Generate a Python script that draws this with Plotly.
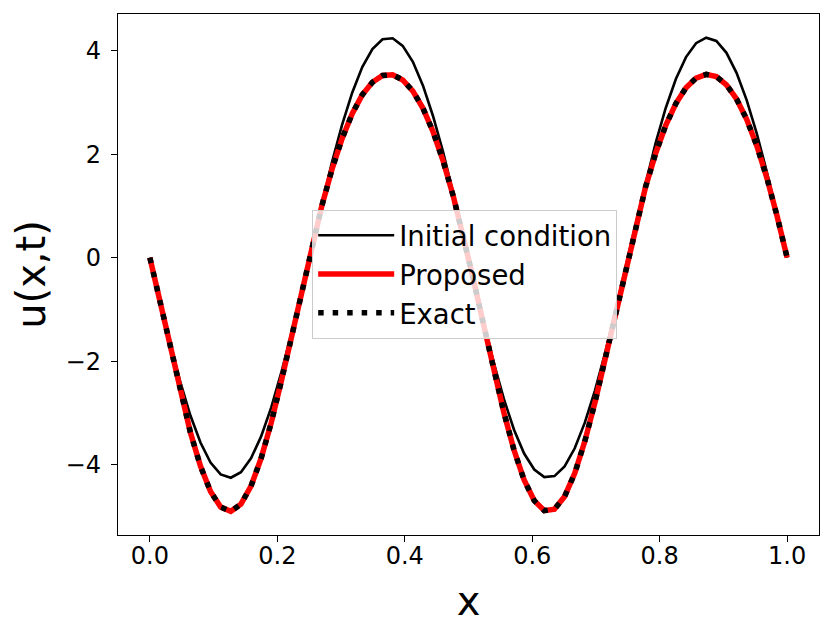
import plotly.graph_objects as go

# sample positions (64 grid points on [0, 1])
x_vals = [0.0, 0.0159, 0.0317, 0.0476, 0.0635, 0.0794, 0.0952, 0.1111, 0.1270, 0.1429,
          0.1587, 0.1746, 0.1905, 0.2063, 0.2222, 0.2381, 0.2540, 0.2698, 0.2857, 0.3016,
          0.3175, 0.3333, 0.3492, 0.3651, 0.3810, 0.3968, 0.4127, 0.4286, 0.4444, 0.4603,
          0.4762, 0.4921, 0.5079, 0.5238, 0.5397, 0.5556, 0.5714, 0.5873, 0.6032, 0.6190,
          0.6349, 0.6508, 0.6667, 0.6825, 0.6984, 0.7143, 0.7302, 0.7460, 0.7619, 0.7778,
          0.7937, 0.8095, 0.8254, 0.8413, 0.8571, 0.8730, 0.8889, 0.9048, 0.9206, 0.9365,
          0.9524, 0.9683, 0.9841, 1.0]

initial_condition = [0.0, -0.842, -1.651, -2.394, -3.043, -3.570, -3.956, -4.185, -4.249, -4.143,
                     -3.874, -3.451, -2.891, -2.216, -1.454, -0.633, 0.212, 1.049, 1.844, 2.566,
                     3.186, 3.681, 4.029, 4.217, 4.238, 4.091, 3.782, 3.323, 2.732, 2.033,
                     1.253, 0.423, -0.423, -1.253, -2.033, -2.732, -3.323, -3.782, -4.091, -4.238,
                     -4.217, -4.029, -3.681, -3.186, -2.566, -1.844, -1.049, -0.212, 0.633, 1.454,
                     2.216, 2.891, 3.451, 3.874, 4.143, 4.249, 4.185, 3.956, 3.570, 3.043,
                     2.394, 1.651, 0.842, 0.0]

proposed = [0.0, -0.863, -1.742, -2.593, -3.370, -4.025, -4.517, -4.815, -4.898, -4.760,
            -4.412, -3.874, -3.185, -2.385, -1.523, -0.644, 0.208, 1.000, 1.703, 2.300,
            2.781, 3.145, 3.389, 3.518, 3.532, 3.432, 3.217, 2.884, 2.432, 1.863,
            1.185, 0.414, -0.427, -1.303, -2.174, -2.994, -3.715, -4.294, -4.693, -4.884,
            -4.856, -4.611, -4.165, -3.546, -2.796, -1.959, -1.083, -0.212, 0.614, 1.364,
            2.015, 2.555, 2.978, 3.282, 3.468, 3.539, 3.497, 3.339, 3.065, 2.673,
            2.161, 1.536, 0.809, 0.0]

exact = [0.0, -0.863, -1.742, -2.593, -3.370, -4.025, -4.517, -4.815, -4.898, -4.760,
         -4.412, -3.874, -3.185, -2.385, -1.523, -0.644, 0.208, 1.000, 1.703, 2.300,
         2.781, 3.145, 3.389, 3.518, 3.532, 3.432, 3.217, 2.884, 2.432, 1.863,
         1.185, 0.414, -0.427, -1.303, -2.174, -2.994, -3.715, -4.294, -4.693, -4.884,
         -4.856, -4.611, -4.165, -3.546, -2.796, -1.959, -1.083, -0.212, 0.614, 1.364,
         2.015, 2.555, 2.978, 3.282, 3.468, 3.539, 3.497, 3.339, 3.065, 2.673,
         2.161, 1.536, 0.809, 0.0]

x_ticks = [0.0, 0.2, 0.4, 0.6, 0.8, 1.0]
y_ticks = [-4, -2, 0, 2, 4]

FONT = "DejaVu Sans"

fig = go.Figure()
fig.add_trace(go.Scatter(x=x_vals, y=initial_condition, mode="lines", name="Initial condition",
                         line=dict(color="black", width=2.6)))
fig.add_trace(go.Scatter(x=x_vals, y=proposed, mode="lines", name="Proposed",
                         line=dict(color="#ff0000", width=5.5)))
fig.add_trace(go.Scatter(x=x_vals, y=exact, mode="lines", name="Exact",
                         line=dict(color="black", width=5.5, dash="5.5px,9px")))

axis_common = dict(
    showgrid=False, zeroline=False, showline=True, linecolor="black", linewidth=1.4,
    mirror=True, ticks="outside", ticklen=6, tickwidth=1.4, tickcolor="black",
    tickfont=dict(family=FONT, size=24, color="black"),
)

fig.update_xaxes(range=[-0.05, 1.05], tickvals=x_ticks, tickformat=".1f", ticklabelstandoff=-7,
                 title=dict(text="x", font=dict(family=FONT, size=40, color="black"), standoff=17),
                 **axis_common)
fig.update_yaxes(range=[-5.355, 4.706], tickvals=y_ticks, tickformat="d", ticklabelstandoff=5,
                 title=dict(text="u(x,t)", font=dict(family=FONT, size=40, color="black"), standoff=7),
                 **axis_common)

fig.update_layout(
    width=823, height=631,
    margin=dict(l=110, r=12, t=6, b=104),
    paper_bgcolor="white", plot_bgcolor="white",
    font=dict(family=FONT, color="black"),
    showlegend=True,
    legend=dict(x=0.277, y=0.624, xanchor="left", yanchor="top",
                bgcolor="rgba(255,255,255,0.8)", bordercolor="#cccccc", borderwidth=1,
                font=dict(family=FONT, size=27.5, color="black"),
                itemwidth=76, tracegroupgap=0),
)

fig.write_html("out.html")
